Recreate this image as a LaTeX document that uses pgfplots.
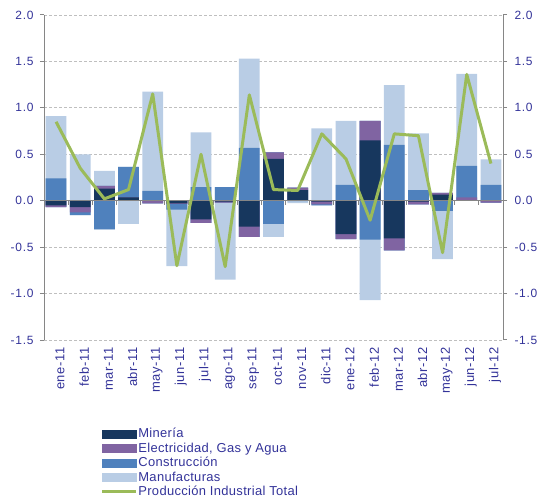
\documentclass[border=0pt]{standalone}
\usepackage{pgfplots}
\usepackage{pgfplotstable}
\pgfplotsset{compat=1.18}
\usepackage{fontspec}
\setmainfont{Liberation Sans}
\newfontfamily\tickff{Liberation Sans}[LetterSpace=6]
\newfontfamily\legff{Liberation Sans}[LetterSpace=2.5]
\newfontfamily\xff{Liberation Sans}[LetterSpace=4.5]
\definecolor{txt}{RGB}{51,51,153}
\definecolor{cMin}{RGB}{23,55,94}
\definecolor{cEle}{RGB}{128,100,162}
\definecolor{cCon}{RGB}{79,129,189}
\definecolor{cMan}{RGB}{185,205,229}
\definecolor{cTot}{RGB}{155,187,89}
\definecolor{axg}{RGB}{134,134,134}
\definecolor{grd}{RGB}{191,191,191}

\pgfplotstableread{
i  min    ele    con    man    tot
0  -0.05  -0.02   0.24   0.67   0.85
1  -0.07  -0.055 -0.03   0.50   0.35
2   0.13   0.03  -0.31   0.16   0.02
3   0.035  0.0    0.33  -0.25   0.12
4   0.0   -0.03   0.105  1.07   1.15
5  -0.03  -0.005 -0.06  -0.61  -0.70
6  -0.20  -0.04   0.145  0.59   0.50
7  -0.01  -0.01   0.145 -0.83  -0.71
8  -0.28  -0.11   0.57   0.96   1.14
9   0.45   0.07  -0.25  -0.14   0.12
10  0.115  0.025 -0.005 -0.02   0.11
11 -0.01  -0.03  -0.01   0.78   0.72
12 -0.36  -0.055  0.17   0.69   0.45
13  0.65   0.21  -0.42  -0.65  -0.21
14 -0.405 -0.13   0.60   0.645  0.72
15 -0.01  -0.03   0.115  0.61   0.70
16  0.065  0.02  -0.11  -0.52  -0.56
17  0.005  0.03   0.34   0.99   1.36
18  0.0   -0.02   0.17   0.275  0.40
}\data

\newcommand{\tickfont}{\tickff\fontsize{12}{14}\selectfont}
\newcommand{\legfont}{\legff\fontsize{13}{15}\selectfont}
\newcommand{\xfont}{\xff\fontsize{13}{15}\selectfont}

\begin{document}
\begin{tikzpicture}
\useasboundingbox (0,0) rectangle (539bp,504bp);
\begin{axis}[
  at={(44bp,164bp)}, anchor=south west,
  scale only axis, width=459bp, height=325bp,
  xmin=-0.5, xmax=18.5, ymin=-1.5, ymax=2,
  axis x line*=bottom, axis y line*=left,
  x axis line style={draw=none},
  y axis line style={draw=axg, line width=1bp},
  ytick={-1.5,-1,-0.5,0,0.5,1,1.5,2},
  ytick pos=left, tick align=outside, major tick length=4bp,
  ytick style={draw=axg, line width=1bp},
  yticklabel={\pgfmathprintnumber[fixed,fixed zerofill,precision=1,assume math mode=true]{\tick}},
  yticklabel style={font=\tickfont, text=txt, xshift=-3bp},
  xtick={0,...,18},
  xticklabels={ene-11,feb-11,mar-11,abr-11,may-11,jun-11,jul-11,ago-11,sep-11,oct-11,nov-11,dic-11,ene-12,feb-12,mar-12,abr-12,may-12,jun-12,jul-12},
  xtick style={draw=none},
  xticklabel style={rotate=90, anchor=east, font=\xfont, text=txt, yshift=-4bp},
  ymajorgrids,
  major grid style={draw=grd, line width=0.75bp, dash pattern=on 3bp off 2bp},
  bar width=0.86,
  legend style={at={(0.1235,-0.266)}, anchor=north west, draw=none, fill=none,
    font=\legfont, text=txt, inner sep=0pt, row sep=0pt,
    nodes={inner sep=0.5bp, text height=10.5bp, text depth=3bp},
    legend cell align=left},
]
\addlegendimage{legend image code/.code={\fill[cMin] (0bp,-3.8bp) rectangle (34bp,3.8bp);}}
\addlegendentry{Minería}
\addlegendimage{legend image code/.code={\fill[cEle] (0bp,-3.8bp) rectangle (34bp,3.8bp);}}
\addlegendentry{Electricidad, Gas y Agua}
\addlegendimage{legend image code/.code={\fill[cCon] (0bp,-3.8bp) rectangle (34bp,3.8bp);}}
\addlegendentry{Construcción}
\addlegendimage{legend image code/.code={\fill[cMan] (0bp,-3.8bp) rectangle (34bp,3.8bp);}}
\addlegendentry{Manufacturas}
\addlegendimage{legend image code/.code={\draw[cTot, line width=3bp] (0bp,0bp) -- (34bp,0bp);}}
\addlegendentry{Producción Industrial Total}

% positive stacks (painted from the top layer down)
\addplot[ybar, bar shift=0, fill=cMan, draw=none, forget plot] table[x=i, y expr={max(\thisrow{min},0)+max(\thisrow{ele},0)+max(\thisrow{con},0)+max(\thisrow{man},0)}]{\data};
\addplot[ybar, bar shift=0, fill=cCon, draw=none, forget plot] table[x=i, y expr={max(\thisrow{min},0)+max(\thisrow{ele},0)+max(\thisrow{con},0)}]{\data};
\addplot[ybar, bar shift=0, fill=cEle, draw=none, forget plot] table[x=i, y expr={max(\thisrow{min},0)+max(\thisrow{ele},0)}]{\data};
\addplot[ybar, bar shift=0, fill=cMin, draw=none, forget plot] table[x=i, y expr={max(\thisrow{min},0)}]{\data};
% negative stacks
\addplot[ybar, bar shift=0, fill=cMan, draw=none, forget plot] table[x=i, y expr={min(\thisrow{min},0)+min(\thisrow{ele},0)+min(\thisrow{con},0)+min(\thisrow{man},0)}]{\data};
\addplot[ybar, bar shift=0, fill=cCon, draw=none, forget plot] table[x=i, y expr={min(\thisrow{min},0)+min(\thisrow{ele},0)+min(\thisrow{con},0)}]{\data};
\addplot[ybar, bar shift=0, fill=cEle, draw=none, forget plot] table[x=i, y expr={min(\thisrow{min},0)+min(\thisrow{ele},0)}]{\data};
\addplot[ybar, bar shift=0, fill=cMin, draw=none, forget plot] table[x=i, y expr={min(\thisrow{min},0)}]{\data};

\draw[axg, line width=1bp] (axis cs:-0.5,0) -- (axis cs:18.5,0);
\pgfplotsinvokeforeach{0.5,1.5,...,17.5}{
  \draw[axg, line width=1bp] (axis cs:#1,0) -- ++(0bp,-4bp);
}

\addplot[cTot, line width=3bp, line join=round, forget plot] table[x=i, y=tot]{\data};
\end{axis}

\begin{axis}[
  at={(44bp,164bp)}, anchor=south west,
  scale only axis, width=459bp, height=325bp,
  xmin=-0.5, xmax=18.5, ymin=-1.5, ymax=2,
  axis x line=none, axis y line*=right,
  y axis line style={draw=axg, line width=1bp},
  ytick={-1.5,-1,-0.5,0,0.5,1,1.5,2},
  ytick pos=right, yticklabel pos=right, tick align=outside, major tick length=4bp,
  ytick style={draw=axg, line width=1bp},
  yticklabel={\pgfmathprintnumber[fixed,fixed zerofill,precision=1,assume math mode=true]{\tick}},
  yticklabel style={font=\tickfont, text=txt, xshift=4bp},
]
\addplot[draw=none] coordinates {(0,0)};
\end{axis}
\end{tikzpicture}
\end{document}
